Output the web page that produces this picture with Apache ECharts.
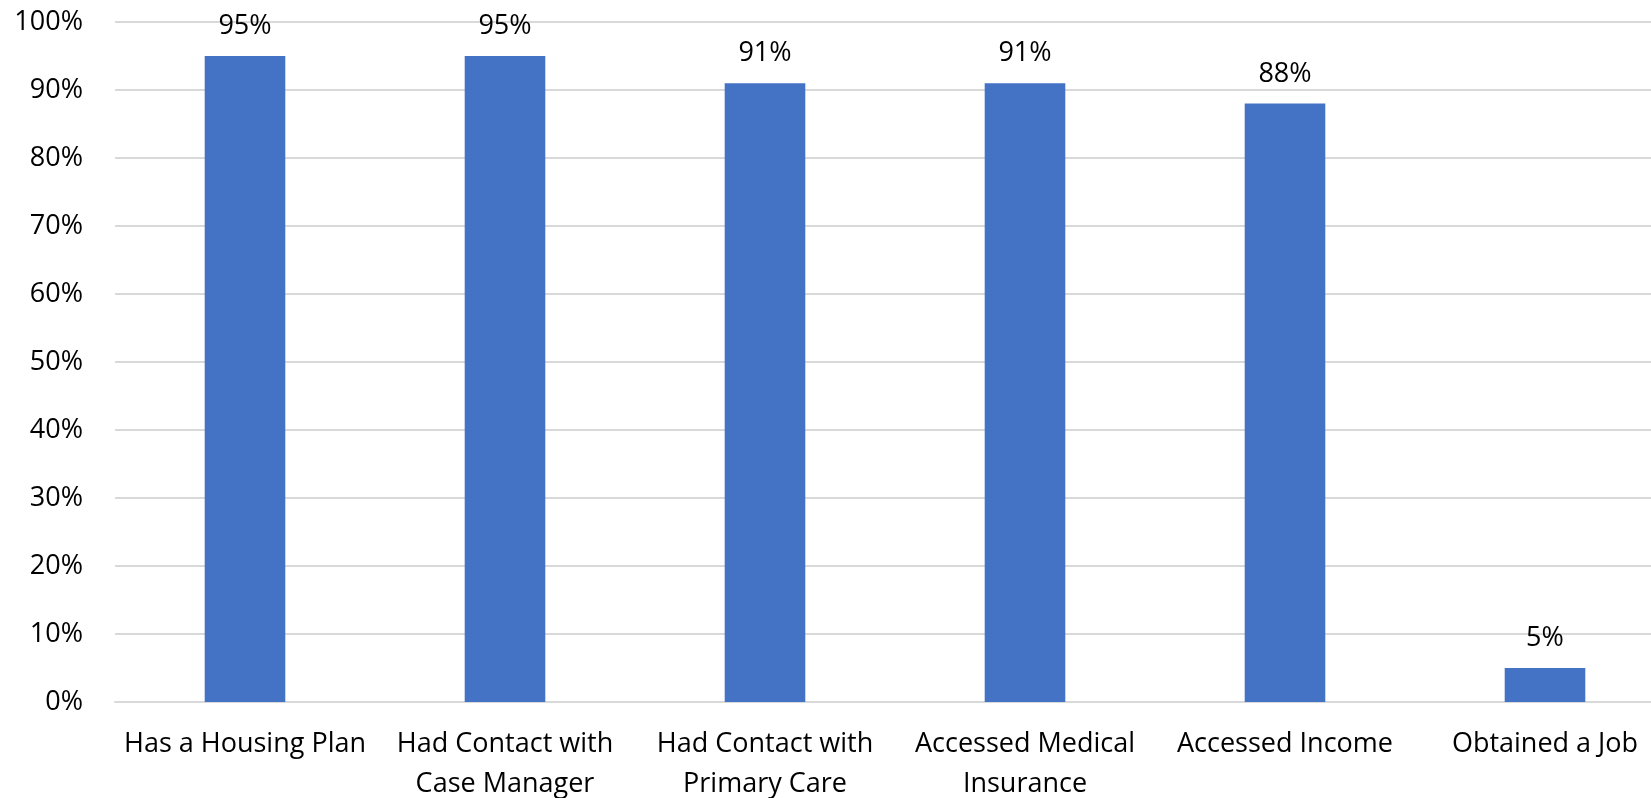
<!DOCTYPE html>
<html>
<head>
<meta charset="utf-8">
<script src="https://cdn.jsdelivr.net/npm/echarts@6/dist/echarts.min.js"></script>
<style>
  html, body { margin: 0; padding: 0; background: #fff; overflow: hidden; }
  /* the plot runs past the right edge of the window, so the canvas is wider */
  #chart { width: 1680px; height: 798px; }
</style>
</head>
<body>
<div id="chart"></div>
<script>
// Outcome categories and share of participants reaching each one (%)
const categories = [
  'Has a Housing Plan',
  'Had Contact with\nCase Manager',
  'Had Contact with\nPrimary Care',
  'Accessed Medical\nInsurance',
  'Accessed Income',
  'Obtained a Job'
];
const percentages = [95, 95, 91, 91, 88, 5];
const yTicks = [0, 10, 20, 30, 40, 50, 60, 70, 80, 90, 100];

const fontFamily = '"Open Sans", "Liberation Sans", sans-serif';
const chart = echarts.init(document.getElementById('chart'));

chart.setOption({
  animation: false,
  grid: {
    left: 115, top: 22, width: 1560, height: 680,
    containLabel: false,
    outerBoundsMode: 'none'
  },
  xAxis: {
    type: 'category',
    data: categories,
    axisLine: { lineStyle: { color: '#d9d9d9', width: 2 } },
    axisTick: { show: false },
    axisLabel: {
      color: '#000',
      fontFamily,
      fontSize: 27,
      lineHeight: 40,
      margin: 22,
      interval: 0
    }
  },
  yAxis: {
    type: 'value',
    min: yTicks[0],
    max: yTicks[yTicks.length - 1],
    interval: 10,
    axisLine: { show: false },
    axisTick: { show: false },
    splitLine: { lineStyle: { color: '#d9d9d9', width: 2 } },
    axisLabel: {
      color: '#000',
      fontFamily,
      fontSize: 27,
      margin: 32,
      formatter: v => v + '%'
    }
  },
  series: [{
    type: 'bar',
    data: percentages,
    barWidth: '31%',
    itemStyle: { color: '#4472c4' },
    label: {
      show: true,
      position: 'top',
      distance: 16,
      color: '#000',
      fontFamily,
      fontSize: 27,
      formatter: p => p.value + '%'
    }
  }]
});
</script>
</body>
</html>
